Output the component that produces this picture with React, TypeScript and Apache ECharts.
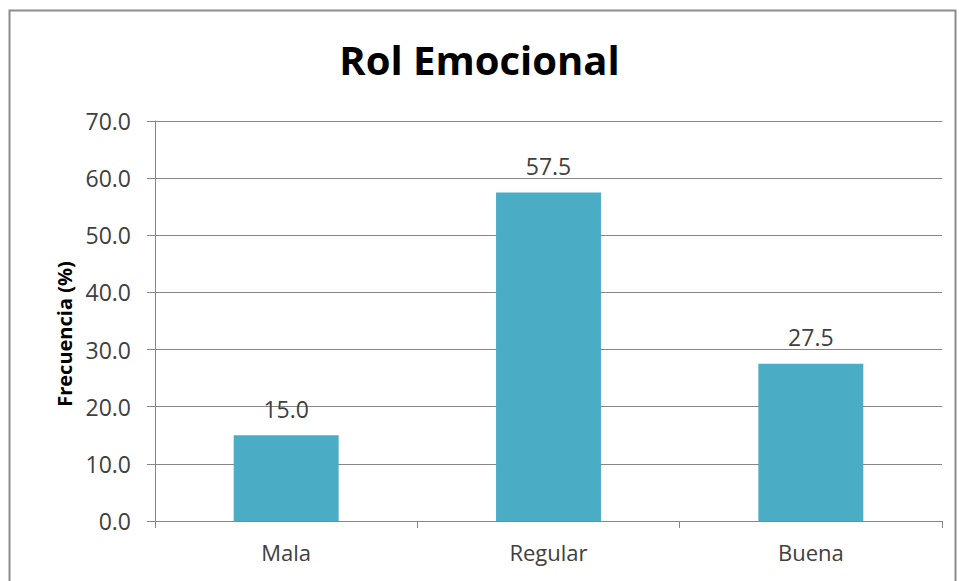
import React, { useEffect, useRef } from "react";
import * as echarts from "echarts";

const categories = ["Mala", "Regular", "Buena"];
const values = [15.0, 57.5, 27.5];
const yTicks = [0, 10, 20, 30, 40, 50, 60, 70];
const title = "Rol Emocional";
const yName = "Frecuencia (%)";

export default function App() {
  const ref = useRef<HTMLDivElement>(null);
  useEffect(() => {
    const chart = echarts.init(ref.current!, null, { renderer: "svg" });
    const font = "'Open Sans', 'Noto Sans', sans-serif";
    chart.setOption({
      animation: false,
      backgroundColor: "#ffffff",
      textStyle: { fontFamily: font },
      title: {
        text: title,
        left: "center",
        top: 34,
        textStyle: { fontFamily: font, fontSize: 40, fontWeight: "bold", color: "#000000" },
      },
      graphic: [
        {
          type: "rect",
          shape: { x: 9.5, y: 10.5, width: 946, height: 600 },
          style: { fill: "none", stroke: "#8c8c8c", lineWidth: 2 },
          silent: true,
        },
        {
          type: "text",
          x: 64,
          y: 334,
          rotation: Math.PI / 2,
          style: {
            text: yName,
            fontFamily: font,
            fontSize: 20,
            fontWeight: "bold",
            fill: "#000000",
            align: "center",
            verticalAlign: "middle",
          },
        },
      ],
      grid: { left: 155, right: 17, top: 121, bottom: 60, containLabel: false },
      xAxis: {
        type: "category",
        data: categories,
        axisLine: { lineStyle: { color: "#868686", width: 1 } },
        axisTick: { show: true, alignWithLabel: false, length: 7, lineStyle: { color: "#868686" } },
        axisLabel: { fontFamily: font, fontSize: 22, color: "#404040", margin: 20 },
      },
      yAxis: {
        type: "value",
        min: 0,
        max: 70,
        interval: 10,
        axisLine: { show: true, lineStyle: { color: "#868686" } },
        axisTick: { show: true, length: 8, lineStyle: { color: "#868686" } },
        axisLabel: {
          fontFamily: font,
          fontSize: 23,
          color: "#404040",
          margin: 24,
          formatter: (v: number) => (yTicks.includes(v) ? v.toFixed(1) : ""),
        },
        splitLine: { show: true, lineStyle: { color: "#868686", width: 1 } },
      },
      series: [
        {
          type: "bar",
          data: values,
          barWidth: "40%",
          itemStyle: { color: "#4BACC6" },
          label: {
            show: true,
            position: "top",
            distance: 15,
            fontFamily: font,
            fontSize: 23,
            color: "#404040",
            formatter: (p: any) => Number(p.value).toFixed(1),
          },
        },
      ],
    });
    return () => chart.dispose();
  }, []);
  return <div ref={ref} style={{ width: 959, height: 581, position: "absolute", left: 0, top: 0 }} />;
}
